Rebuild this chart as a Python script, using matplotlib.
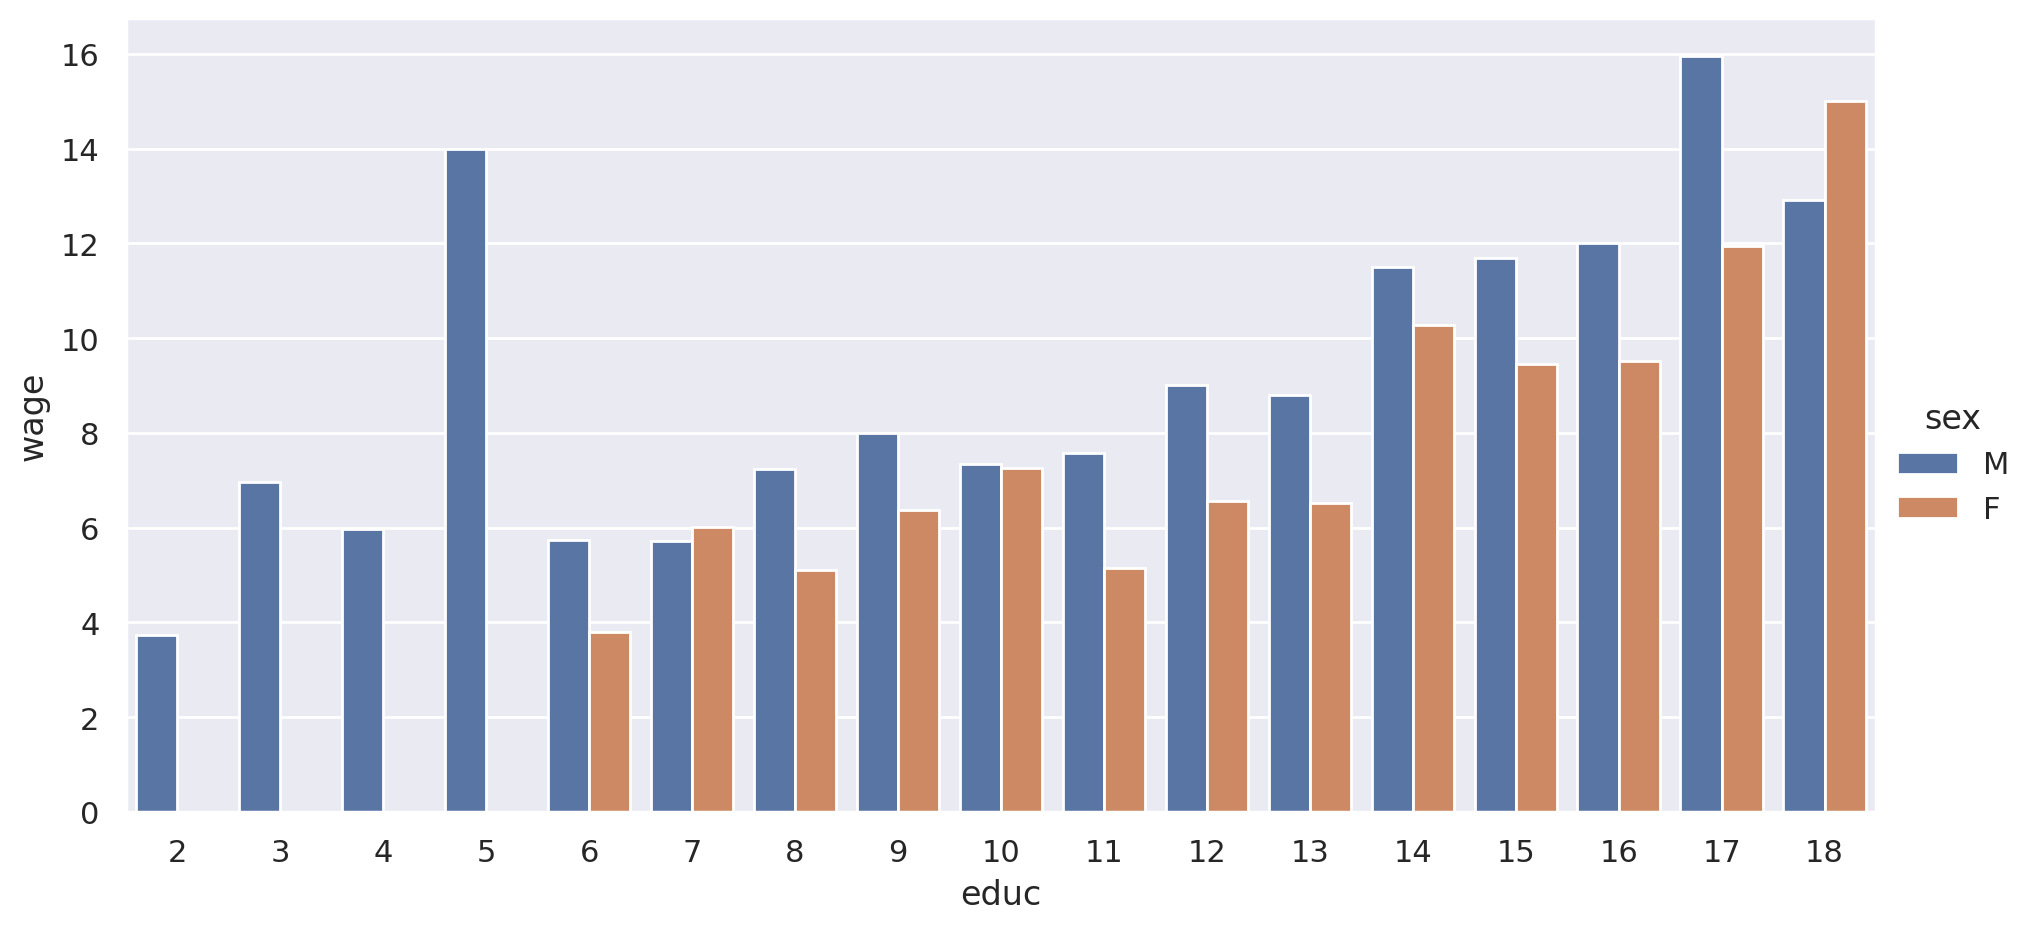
import pandas as pd
import seaborn as sns
import matplotlib.pyplot as plt

educ = [2, 3, 4, 5, 6, 7, 8, 9, 10, 11, 12, 13, 14, 15, 16, 17, 18]
wage_m = [3.74, 6.97, 5.98, 13.99, 5.74, 5.71, 7.24, 8.0, 7.35, 7.57, 9.02, 8.80, 11.5, 11.69, 12.0, 15.96, 12.92]
educ_f = [6, 7, 8, 9, 10, 11, 12, 13, 14, 15, 16, 17, 18]
wage_f = [3.80, 6.01, 5.11, 6.37, 7.27, 5.14, 6.56, 6.53, 10.27, 9.45, 9.51, 11.94, 15.0]

df = pd.concat([
    pd.DataFrame({'educ': educ, 'wage': wage_m, 'sex': 'M'}),
    pd.DataFrame({'educ': educ_f, 'wage': wage_f, 'sex': 'F'}),
], ignore_index=True)

sns.set_theme()

fig, ax = plt.subplots(figsize=(10.155, 4.64), dpi=200)
sns.barplot(data=df, x='educ', y='wage', hue='sex', hue_order=['M', 'F'],
            order=educ, errorbar=None, ax=ax)
fig.subplots_adjust(left=0.062, right=0.9237, top=0.9795, bottom=0.124)

handles, labels = ax.get_legend_handles_labels()
ax.get_legend().remove()
fig.legend(handles, labels, title='sex', loc='center left',
           bbox_to_anchor=(0.9205, 0.5), frameon=False)

fig.savefig('out.png', dpi=200)
